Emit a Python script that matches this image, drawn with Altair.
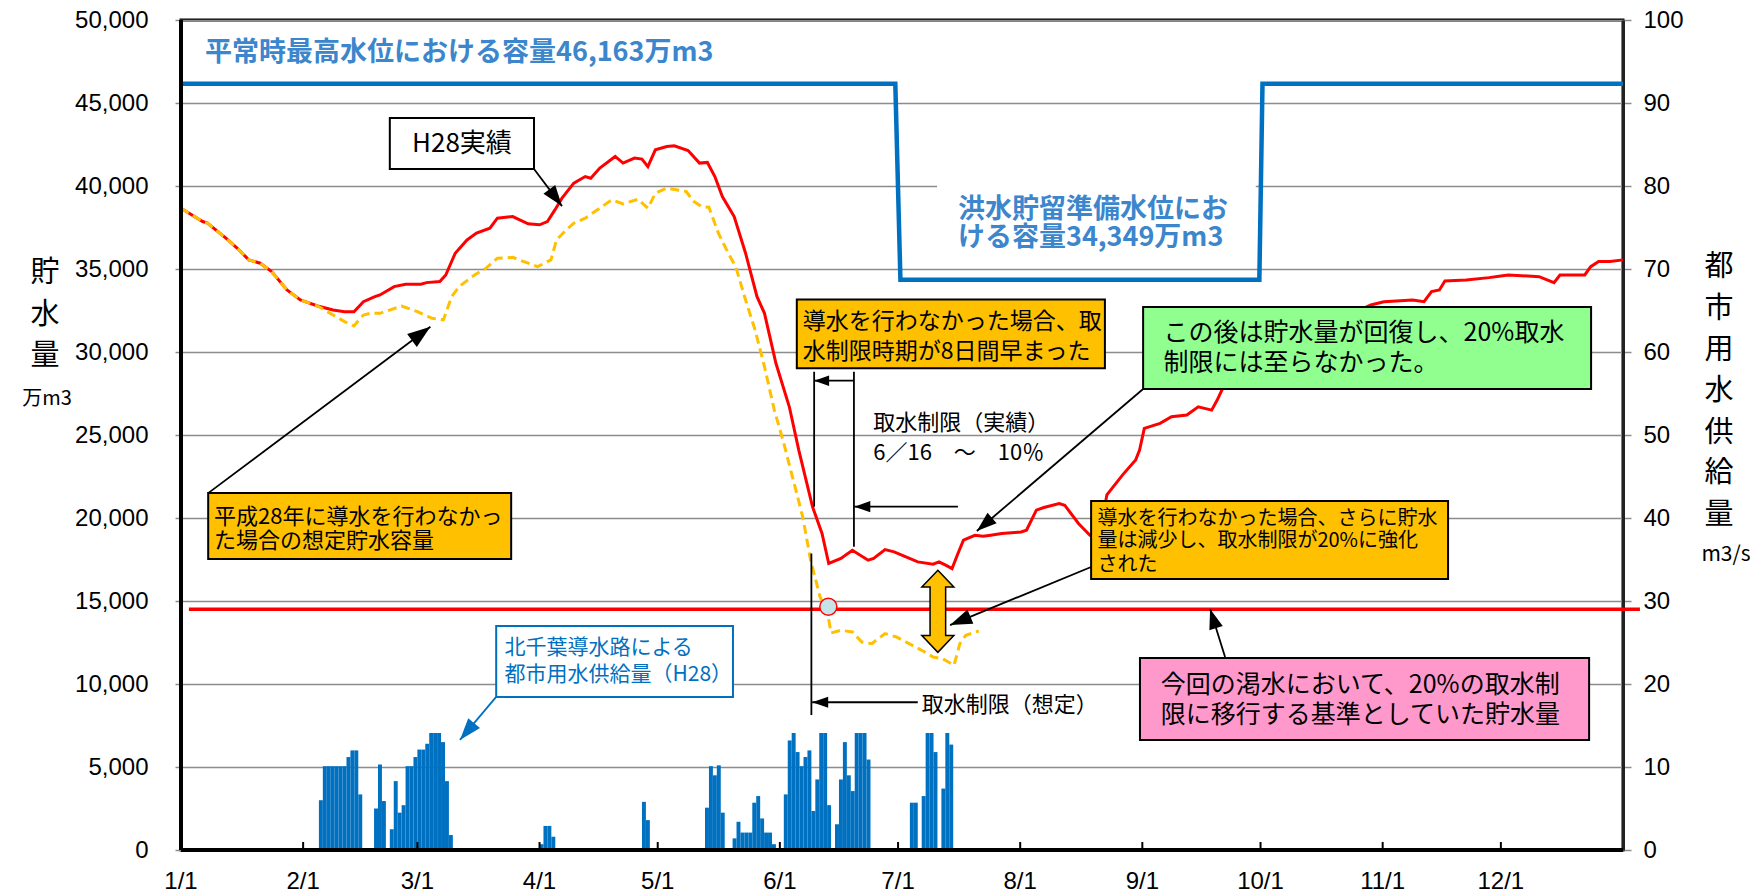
import math
import altair as alt
import pandas as pd

# ---------------- data ----------------
month_start_days = [0, 31, 60, 91, 121, 152, 182, 213, 244, 274, 305, 335]
month_labels = ["1/1", "2/1", "3/1", "4/1", "5/1", "6/1", "7/1", "8/1", "9/1", "10/1", "11/1", "12/1"]

# H28 actual storage (万m3), day-of-year index (0 = 1/1)
h28_days = [0, 5.5, 6.7, 11.4, 14.3, 17.2, 20.1, 23, 26.9, 30.3, 34.7, 38.6, 41.5, 43.9, 46.3, 49.2, 50.5,
            54.1, 57, 60.9, 62.3, 65.7, 67.2, 69.6, 72.6, 75, 78.4, 80.3, 84.2, 88.1, 91, 93, 94.9, 96.7,
            99.7, 102.6, 104, 106.3, 110.2, 112.2, 115.1, 117, 118.5, 120.4, 123.3, 125.2, 128.7, 131.6,
            133.6, 135.5, 137.4, 140.4, 143.3, 146.2, 148.1, 151, 154.4, 156.8, 160.3, 162.7, 164.4, 167.5,
            170.4, 174.4, 175.8, 178.7, 181, 184, 187, 190.9, 192.4, 194.2, 195.7, 197.2, 198.6, 201.5,
            203.6, 205.5, 208.3, 213.2, 214.6, 217.1, 219, 222.9, 224.3, 227.8, 230.7, 233, 235, 239,
            242.3, 243.3, 244.5, 248.5, 251.4, 255.3, 258.2, 261.6, 263, 265, 268, 272, 280, 290, 298, 302,
            305.3, 312.6, 315.5, 317.4, 319.4, 320.8, 326.2, 332, 335, 336.9, 344.7, 348.5, 350, 356.3,
            357.8, 359.8, 362.7, 366]
h28_vals = [38660, 37860, 37760, 36855, 36250, 35550, 35350, 34840, 33740, 33135, 32770, 32530, 32430, 32430,
            33030, 33335, 33435, 33940, 34080, 34080, 34180, 34240, 34640, 35950, 36750, 37160, 37460, 38060,
            38160, 37720, 37660, 37860, 38560, 39270, 40170, 40570, 40470, 41080, 41780, 41380, 41680, 41620,
            41170, 42180, 42380, 42420, 42140, 41380, 41420, 40570, 39360, 38160, 35950, 33335, 32330, 29320,
            26700, 24090, 20670, 19070, 17260, 17560, 18060, 17460, 17560, 18100, 17960, 17660, 17355, 17215,
            17355, 17150, 16955, 17860, 18660, 18960, 18900, 18960, 19060, 19160, 19260, 20470, 20630, 20870,
            20770, 19670, 18960, 18700, 21400, 22600, 23490, 24090, 25400, 25700, 26100, 26200, 26700, 26500,
            27105, 28110, 28600, 29300, 30400, 31600, 32400, 32830, 33030, 33135, 33030, 33640, 33740, 34280,
            34340, 34480, 34580, 34640, 34540, 34180, 34640, 34640, 35140, 35450, 35450, 35550]

# assumed storage without the transfer (dashed)
est_days = [0, 5.5, 6.7, 11.4, 14.3, 17.2, 20.1, 23, 26.9, 30.3, 34.7, 38.6, 41.5, 43.9, 46.3, 48, 50.5,
            56, 60, 63.7, 66.6, 68.7, 70.6, 74.5, 77.4, 80.3, 84.2, 88.1, 90.5, 93.9, 95.3, 97.8, 99.7,
            102.6, 106.3, 109.3, 112.2, 116, 118.5, 120.4, 123.3, 128.2, 130.2, 132.1, 134, 136.4, 138.9,
            140.8, 143.3, 145.7, 148.1, 150.6, 153, 157.8, 159.8, 162.2, 164, 165, 167.5, 170.4, 172.8,
            175.3, 178.7, 181.6, 184, 188, 190.9, 193.3, 196.2, 197.7, 199.2, 202.5]
est_vals = [38660, 37860, 37760, 36855, 36250, 35550, 35350, 34840, 33740, 33135, 32770, 32230, 31830, 31570,
            32230, 32330, 32330, 32770, 32430, 32030, 31930, 33335, 33940, 34640, 35045, 35650, 35700, 35350,
            35140, 35550, 36750, 37360, 37760, 38060, 38660, 39165, 38920, 39200, 38660, 39570, 39870, 39670,
            39060, 38760, 38720, 37160, 35950, 35140, 33135, 31330, 29110, 26500, 24500, 20070, 17460, 15245,
            14400, 13075, 13235, 13135, 12530, 12430, 13035, 12835, 12530, 12030, 11625, 11525, 11125, 12430,
            12935, 13195]

# capacity (step)
cap_days = [0, 181.3, 182.6, 273.7, 274.5, 366]
cap_vals = [46163, 46163, 34349, 34349, 46163, 46163]

# 20% restriction threshold
threshold_value = 14500
threshold_span = [2, 370.3]

# daily supply through Kita-Chiba conduit (m3/s)
supply_days = [35, 36, 37, 38, 39, 40, 41, 42, 43, 44, 45,
               49, 50, 51, 53, 54, 55, 56, 57, 58, 59, 60, 61, 62, 63, 64, 65, 66, 67, 68,
               91, 92, 93, 94, 117, 118,
               133, 134, 135, 136, 137, 140, 141, 142, 143, 144, 145, 146, 147, 148, 149, 150,
               153, 154, 155, 156, 157, 158, 159, 160, 161, 162, 163, 164, 166, 167, 168, 169, 170, 171, 172, 173, 174,
               185, 186, 188, 189, 190, 191, 193, 194, 195]
supply_vals = [6.0, 10.1, 10.1, 10.1, 10.1, 10.1, 10.1, 11.2, 12.0, 12.0, 6.7,
               5.0, 10.3, 5.9, 2.5, 8.3, 4.5, 5.4, 10.1, 10.1, 11.2, 12.1, 12.1, 12.8, 14.1, 14.1, 14.1, 13.0, 8.3, 1.8,
               0.7, 2.9, 2.9, 1.6, 5.8, 3.6,
               5.1, 10.1, 9.0, 10.2, 4.5, 1.4, 3.4, 2.1, 2.1, 2.1, 5.7, 6.5, 3.8, 2.1, 2.1, 0.7,
               6.7, 13.2, 14.1, 11.8, 10.1, 11.2, 12.0, 4.7, 8.5, 14.1, 14.1, 5.4, 3.1, 8.5, 13.0, 9.0, 7.1, 14.1, 14.1, 14.1, 10.9,
               5.7, 5.7, 6.5, 14.1, 14.1, 11.8, 7.4, 14.1, 12.7]

# ---------------- layout / style ----------------
W, H = 1442, 830
XMAX, YMAX, Y2MAX = 366, 50000, 100
NUM_FONT = "Liberation Sans"
JP_FONT = "Noto Sans CJK JP"
GRID = "#8c8c8c"


def XS():
    return alt.Scale(domain=[0, XMAX], nice=False, zero=False)


def YS():
    return alt.Scale(domain=[0, YMAX], nice=False, zero=False)


X_AXIS = alt.Axis(values=month_start_days, labels=False, title=None, grid=True, gridColor=GRID,
                  gridWidth=1.5, ticks=False, domain=False)
Y_AXIS = alt.Axis(orient="left", values=list(range(0, 50001, 5000)), format=",.0f", title=None, grid=True,
                  gridColor=GRID, gridWidth=1.5, tickColor=GRID, tickWidth=1.5, tickSize=6, domain=False,
                  labelFont=NUM_FONT, labelFontSize=24, labelColor="black", labelPadding=27,
                  labelFlush=False, labelBound=False)
Y2_AXIS = alt.Axis(orient="right", values=list(range(0, 101, 10)), format=".0f", title=None, grid=False,
                   tickColor=GRID, tickWidth=1.5, tickSize=8, domain=True, domainColor="#222222", domainWidth=3,
                   labelFont=NUM_FONT, labelFontSize=24, labelColor="black", labelPadding=12,
                   labelFlush=False, labelBound=False)


def X(f):
    return alt.X(field=f, type="quantitative", scale=XS(), axis=None)


def Y(f):
    return alt.Y(field=f, type="quantitative", scale=YS(), axis=None)


# ---------------- annotations (data units) ----------------
flood_bg = {"x0": 191.9, "x1": 272.8, "y0": 40360, "y1": 35060}

boxes = [
    {"x0": 53.0, "x1": 89.6, "y0": 44100, "y1": 41020, "fill": "white", "stroke": "black"},
    {"x0": 6.9, "x1": 83.8, "y0": 21500, "y1": 17530, "fill": "#FFC000", "stroke": "black"},
    {"x0": 80.0, "x1": 140.1, "y0": 13490, "y1": 9220, "fill": "white", "stroke": "#0070C0"},
    {"x0": 156.3, "x1": 234.5, "y0": 33170, "y1": 29020, "fill": "#FFC000", "stroke": "black"},
    {"x0": 244.2, "x1": 357.9, "y0": 32710, "y1": 27770, "fill": "#90FF90", "stroke": "black"},
    {"x0": 231.0, "x1": 321.6, "y0": 21020, "y1": 16330, "fill": "#FFC000", "stroke": "black"},
    {"x0": 243.4, "x1": 357.4, "y0": 11570, "y1": 6630, "fill": "#FF99CC", "stroke": "black"},
]

# arrows: tail -> tip
arrows = [
    {"x0": 89.6, "y0": 41020, "x1": 96.7, "y1": 38790, "c": "black", "s": 441},
    {"x0": 6.9, "y0": 21500, "x1": 63.3, "y1": 31520, "c": "black", "s": 529},
    {"x0": 80.0, "y0": 9220, "x1": 70.8, "y1": 6630, "c": "#0070C0", "s": 484},
    {"x0": 170.8, "y0": 28270, "x1": 160.7, "y1": 28270, "c": "black", "s": 225},
    {"x0": 197.2, "y0": 20680, "x1": 170.9, "y1": 20680, "c": "black", "s": 256},
    {"x0": 187.0, "y0": 8900, "x1": 160.2, "y1": 8900, "c": "black", "s": 256},
    {"x0": 244.2, "y0": 27770, "x1": 202.0, "y1": 19220, "c": "black", "s": 400},
    {"x0": 231.0, "y0": 17050, "x1": 195.2, "y1": 13550, "c": "black", "s": 484},
    {"x0": 265.0, "y0": 11630, "x1": 261.2, "y1": 14520, "c": "black", "s": 400},
]
# plain segments (bracket)
segments = [
    {"x0": 160.7, "y0": 28810, "x1": 160.7, "y1": 20680},
    {"x0": 170.8, "y0": 28810, "x1": 170.8, "y1": 18270},
    {"x0": 160.0, "y0": 17860, "x1": 160.0, "y1": 8130},
]

texts_regular = [
    {"t": "H28実績", "x": 71.3, "y": 42560, "s": 26, "c": "black", "a": "center"},
    {"t": "平成28年に導水を行わなかっ", "x": 8.4, "y": 20080, "s": 22, "c": "black", "a": "left"},
    {"t": "た場合の想定貯水容量", "x": 8.4, "y": 18630, "s": 22, "c": "black", "a": "left"},
    {"t": "導水を行わなかった場合、取", "x": 157.8, "y": 31830, "s": 23, "c": "black", "a": "left"},
    {"t": "水制限時期が8日間早まった", "x": 157.8, "y": 30020, "s": 23, "c": "black", "a": "left"},
    {"t": "取水制限（実績）", "x": 175.7, "y": 25700, "s": 22, "c": "black", "a": "left"},
    {"t": "6／16　～　10％", "x": 175.7, "y": 23900, "s": 22, "c": "black", "a": "left"},
    {"t": "取水制限（想定）", "x": 188.0, "y": 8705, "s": 22, "c": "black", "a": "left"},
    {"t": "この後は貯水量が回復し、20%取水", "x": 249.4, "y": 31130, "s": 25, "c": "black", "a": "left"},
    {"t": "制限には至らなかった。", "x": 249.4, "y": 29320, "s": 25, "c": "black", "a": "left"},
    {"t": "導水を行わなかった場合、さらに貯水", "x": 232.6, "y": 19940, "s": 20, "c": "black", "a": "left"},
    {"t": "量は減少し、取水制限が20%に強化", "x": 232.6, "y": 18640, "s": 20, "c": "black", "a": "left"},
    {"t": "された", "x": 232.6, "y": 17170, "s": 20, "c": "black", "a": "left"},
    {"t": "今回の渇水において、20%の取水制", "x": 248.7, "y": 9940, "s": 25, "c": "black", "a": "left"},
    {"t": "限に移行する基準としていた貯水量", "x": 248.7, "y": 8130, "s": 25, "c": "black", "a": "left"},
    {"t": "北千葉導水路による", "x": 82.1, "y": 12170, "s": 21, "c": "#0070C0", "a": "left"},
    {"t": "都市用水供給量（H28）", "x": 82.1, "y": 10540, "s": 21, "c": "#0070C0", "a": "left"},
]
texts_bold = [
    {"t": "平常時最高水位における容量46,163万m3", "x": 6.1, "y": 48010, "s": 27, "c": "#3B86CC"},
    {"t": "洪水貯留準備水位にお", "x": 197.2, "y": 38550, "s": 27, "c": "#3B86CC"},
    {"t": "ける容量34,349万m3", "x": 197.2, "y": 36850, "s": 27, "c": "#3B86CC"},
]
# axis titles (pixel positions relative to plot area)
titles = [
    ("貯", -136, 253, 29), ("水", -136, 295, 29), ("量", -136, 336, 29), ("万m3", -134, 379, 20),
    ("都", 1538, 247, 29), ("市", 1538, 289, 29), ("用", 1538, 330, 29), ("水", 1538, 371, 29),
    ("供", 1538, 413, 29), ("給", 1538, 453, 29), ("量", 1538, 495, 29), ("m3/s", 1545, 535, 21),
]

circle_pt = {"x": 164.3, "y": 14650}
double_arrow = {"x": 192.1, "y": 14380}

PXD = W / XMAX
PXV = H / YMAX


def head_angle(a):
    dx = (a["x1"] - a["x0"]) * PXD
    up = (a["y1"] - a["y0"]) * PXV
    return (math.degrees(math.atan2(dx, up)) + 360.0) % 360.0


heads = [{"x": a["x1"], "y": a["y1"], "ang": head_angle(a), "c": a["c"], "s": a["s"]} for a in arrows]

HEAD_PATH = "M0,0 L0.7,2 L-0.7,2 Z"
DOUBLE_PATH = ("M0,-1 L0.39,-0.59 L0.19,-0.59 L0.19,0.59 L0.39,0.59 L0,1 L-0.39,0.59 L-0.19,0.59 "
               "L-0.19,-0.59 L-0.39,-0.59 Z")

# ---------------- layers ----------------
h28_df = pd.DataFrame({"d": h28_days, "v": h28_vals})
est_df = pd.DataFrame({"d": est_days, "v": est_vals})
cap_df = pd.DataFrame({"d": cap_days, "v": cap_vals})
sup_df = pd.DataFrame({"d": supply_days, "v": supply_vals})
sup_df["d1"] = sup_df["d"] + 1
sup_df["z"] = 0

bars = alt.Chart(sup_df).mark_bar(color="#0070C0").encode(
    x=X("d"), x2=alt.X2(field="d1"),
    y=alt.Y(field="v", type="quantitative", scale=alt.Scale(domain=[0, Y2MAX], nice=False, zero=False),
            axis=Y2_AXIS),
    y2=alt.Y2(field="z"))

bg = alt.Chart(pd.DataFrame([flood_bg])).mark_rect(fill="white", strokeWidth=0).encode(
    x=X("x0"), x2=alt.X2(field="x1"), y=Y("y0"), y2=alt.Y2(field="y1"))

thr = alt.Chart(pd.DataFrame({"x0": [threshold_span[0]], "x1": [threshold_span[1]], "v": [threshold_value]})
                ).mark_rule(color="#FF0000", strokeWidth=3.5).encode(
    x=X("x0"), x2=alt.X2(field="x1"), y=Y("v"))

cap = alt.Chart(cap_df).mark_line(color="#0070C0", strokeWidth=4.5).encode(x=X("d"), y=Y("v"))
# this layer carries the shared x axis (grid) and the left y axis
h28 = alt.Chart(h28_df).mark_line(color="#FF0000", strokeWidth=3).encode(
    x=alt.X(field="d", type="quantitative", scale=XS(), axis=X_AXIS),
    y=alt.Y(field="v", type="quantitative", scale=YS(), axis=Y_AXIS))
est = alt.Chart(est_df).mark_line(color="#FFC000", strokeWidth=3, strokeDash=[9, 5]).encode(x=X("d"), y=Y("v"))

seg_df = pd.DataFrame(segments + [{k: a[k] for k in ("x0", "y0", "x1", "y1")} for a in arrows])
seg_df["c"] = ["black"] * len(segments) + [a["c"] for a in arrows]
segs = alt.Chart(seg_df).mark_rule(strokeWidth=1.8).encode(
    x=X("x0"), x2=alt.X2(field="x1"), y=Y("y0"), y2=alt.Y2(field="y1"),
    color=alt.Color(field="c", type="nominal", scale=None))

box_layer = alt.Chart(pd.DataFrame(boxes)).mark_rect(strokeWidth=2).encode(
    x=X("x0"), x2=alt.X2(field="x1"), y=Y("y0"), y2=alt.Y2(field="y1"),
    fill=alt.Fill(field="fill", type="nominal", scale=None),
    stroke=alt.Stroke(field="stroke", type="nominal", scale=None))

treg = pd.DataFrame(texts_regular)


def text_layer(df, align, weight="normal"):
    return alt.Chart(df).mark_text(align=align, baseline="middle", font=JP_FONT, fontWeight=weight).encode(
        x=X("x"), y=Y("y"), text=alt.Text(field="t", type="nominal"),
        size=alt.Size(field="s", type="quantitative", scale=None),
        color=alt.Color(field="c", type="nominal", scale=None))


txt_left = text_layer(treg[treg["a"] == "left"].reset_index(drop=True), "left")
txt_center = text_layer(treg[treg["a"] == "center"].reset_index(drop=True), "center")
txt_bold = text_layer(pd.DataFrame(texts_bold), "left", "bold")

circ = alt.Chart(pd.DataFrame([circle_pt])).mark_point(shape="circle", filled=True, fill="#C4E4EA",
                                                      stroke="#FF0000", strokeWidth=1.5, size=290,
                                                      opacity=1).encode(x=X("x"), y=Y("y"))
darrow = alt.Chart(pd.DataFrame([double_arrow])).mark_point(shape=DOUBLE_PATH, filled=True, fill="#FFC000",
                                                           stroke="black", strokeWidth=1.5, size=6724,
                                                           opacity=1).encode(x=X("x"), y=Y("y"))
head_layer = alt.Chart(pd.DataFrame(heads)).mark_point(shape=HEAD_PATH, filled=True, opacity=1).encode(
    x=X("x"), y=Y("y"), angle=alt.Angle(field="ang", type="quantitative", scale=None),
    size=alt.Size(field="s", type="quantitative", scale=None),
    color=alt.Color(field="c", type="nominal", scale=None))

frame_df = pd.DataFrame({"x0": [0, 0], "x1": [0, XMAX], "y0": [0, 0], "y1": [YMAX, 0]})
frame = alt.Chart(frame_df).mark_rule(color="black", strokeWidth=4).encode(
    x=X("x0"), x2=alt.X2(field="x1"), y=Y("y0"), y2=alt.Y2(field="y1"))
mt_df = pd.DataFrame({"d": month_start_days[1:], "y0": 0, "y1": 480})
mticks = alt.Chart(mt_df).mark_rule(color="black", strokeWidth=2).encode(
    x=X("d"), y=Y("y0"), y2=alt.Y2(field="y1"))

# month tick labels under the x axis
xl_df = pd.DataFrame({"d": month_start_days, "lab": month_labels})
xlabels = alt.Chart(xl_df).mark_text(align="center", baseline="middle", font=NUM_FONT, fontSize=24,
                                     color="black").encode(
    x=X("d"), y=alt.value(H + 32), text=alt.Text(field="lab", type="nominal"))

title_layers = []
for t, px, py, s in titles:
    title_layers.append(
        alt.Chart(pd.DataFrame({"t": [t]})).mark_text(align="center", baseline="middle", font=JP_FONT,
                                                      color="black", fontSize=s).encode(
            x=alt.value(px), y=alt.value(py), text=alt.Text(field="t", type="nominal")))

chart = alt.layer(h28, bars, bg, thr, cap, est, segs, box_layer, txt_left, txt_center, txt_bold,
                  circ, darrow, head_layer, frame, mticks, xlabels, *title_layers).resolve_scale(
    y="independent").properties(
    width=W, height=H,
    padding={"left": 173, "top": 12, "right": 131, "bottom": 46},
    autosize=alt.AutoSizeParams(type="none"),
).configure_view(stroke="black", strokeWidth=3)

chart.save("out.html", embed_options={"renderer": "svg", "actions": False})
